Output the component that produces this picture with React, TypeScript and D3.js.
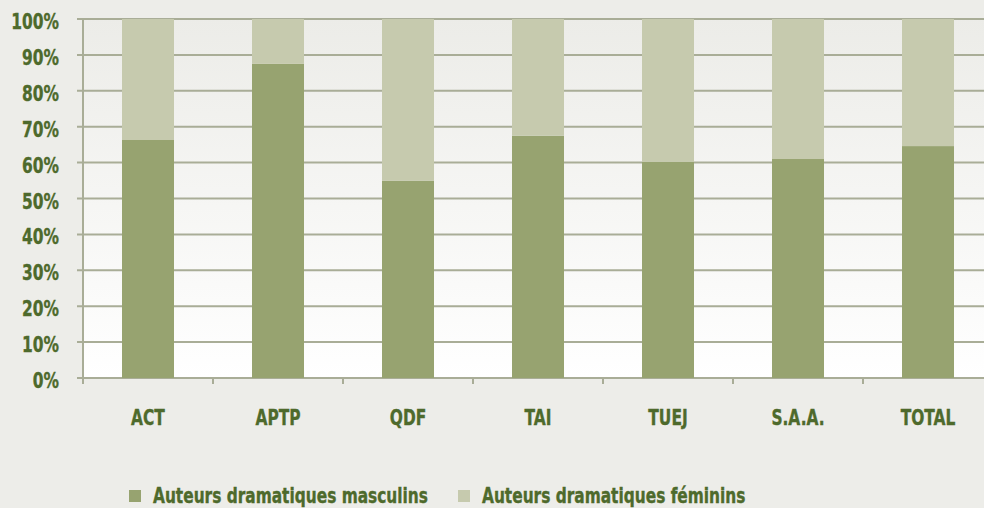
import { useEffect, useRef } from 'react';
import * as d3 from 'd3';

const categories = ['ACT', 'APTP', 'QDF', 'TAI', 'TUEJ', 'S.A.A.', 'TOTAL'];
const masculins = [66.3, 87.5, 54.9, 67.5, 60.2, 61.0, 64.6];
const feminins = masculins.map(v => 100 - v);
const yTicks = [0, 10, 20, 30, 40, 50, 60, 70, 80, 90, 100];
const seriesNames = ['Auteurs dramatiques masculins', 'Auteurs dramatiques féminins'];

const W = 984;
const H = 508;
const colors = ['#97a370', '#c6caae'];
const textColor = '#4e6a2c';
const gridColor = '#a9ad97';
const font = '"DejaVu Sans Condensed", "DejaVu Sans", sans-serif';
const squeeze = 0.78; // police étroite

export default function App() {
  const svgRef = useRef<SVGSVGElement>(null);

  useEffect(() => {
    const svg = d3.select(svgRef.current);
    svg.selectAll('*').remove();

    const left = 83, right = 993, top = 19, bottom = 378;

    const x = d3.scaleBand().domain(categories).range([left, right]).paddingInner(0.6).paddingOuter(0.3);
    const band = d3.scaleBand().domain(categories).range([left, right]);
    const y = d3.scaleLinear().domain([0, 100]).range([bottom, top]);

    svg.append('rect').attr('width', W).attr('height', H).attr('fill', '#edede9');

    const defs = svg.append('defs');
    const grad = defs.append('linearGradient').attr('id', 'bg').attr('x1', 0).attr('y1', 0).attr('x2', 0).attr('y2', 1);
    grad.append('stop').attr('offset', '0%').attr('stop-color', '#ececE8');
    grad.append('stop').attr('offset', '100%').attr('stop-color', '#ffffff');

    svg.append('rect')
      .attr('x', left).attr('y', top)
      .attr('width', right - left).attr('height', bottom - top)
      .attr('fill', 'url(#bg)');

    // grille
    svg.append('g').selectAll('line').data(yTicks).enter().append('line')
      .attr('x1', left - 6).attr('x2', right)
      .attr('y1', d => y(d)).attr('y2', d => y(d))
      .attr('stroke', gridColor).attr('stroke-width', 2);

    // axe vertical
    svg.append('line')
      .attr('x1', left).attr('x2', left).attr('y1', top).attr('y2', bottom + 6)
      .attr('stroke', gridColor).attr('stroke-width', 2);

    // graduations axe x
    svg.append('g').selectAll('line').data(categories).enter().append('line')
      .attr('x1', d => (band(d) as number) + band.bandwidth())
      .attr('x2', d => (band(d) as number) + band.bandwidth())
      .attr('y1', bottom).attr('y2', bottom + 6)
      .attr('stroke', gridColor).attr('stroke-width', 2);

    // barres
    const stack = d3.stack<number>().keys(['m', 'f'])
      .value((i, key) => (key === 'm' ? masculins[i] : feminins[i]));
    const series = stack(categories.map((_, i) => i));

    series.forEach((s, si) => {
      svg.append('g').selectAll('rect').data(s).enter().append('rect')
        .attr('x', (_, i) => x(categories[i]) as number)
        .attr('width', x.bandwidth())
        .attr('y', d => y(d[1]))
        .attr('height', d => y(d[0]) - y(d[1]))
        .attr('fill', colors[si]);
    });

    const label = (sel: any, size: number) => sel
      .attr('font-family', font).attr('font-weight', 'bold').attr('font-size', size)
      .attr('fill', textColor).attr('stroke', textColor).attr('stroke-width', 0.35);

    // étiquettes axe y
    svg.append('g').selectAll('text').data(yTicks).enter().append('text')
      .attr('transform', d => `translate(59,${y(d) + 10}) scale(${squeeze},1)`)
      .attr('text-anchor', 'end')
      .call(label, 22)
      .text(d => `${d}%`);

    // étiquettes axe x
    svg.append('g').selectAll('text').data(categories).enter().append('text')
      .attr('transform', d => `translate(${(x(d) as number) + x.bandwidth() / 2},425) scale(${squeeze},1)`)
      .attr('text-anchor', 'middle')
      .call(label, 22)
      .text(d => d);

    // légende
    const legendX = [129, 458];
    const legend = svg.append('g').selectAll('g').data(seriesNames).enter().append('g')
      .attr('transform', (_, i) => `translate(${legendX[i]},490)`);
    legend.append('rect').attr('width', 12).attr('height', 12).attr('fill', (_, i) => colors[i]);
    legend.append('text')
      .attr('transform', `translate(24,13) scale(0.815,1)`)
      .call(label, 21)
      .text(d => d);
  }, []);

  return <svg ref={svgRef} width={W} height={H} style={{ position: 'absolute', left: 0, top: 0 }} />;
}
